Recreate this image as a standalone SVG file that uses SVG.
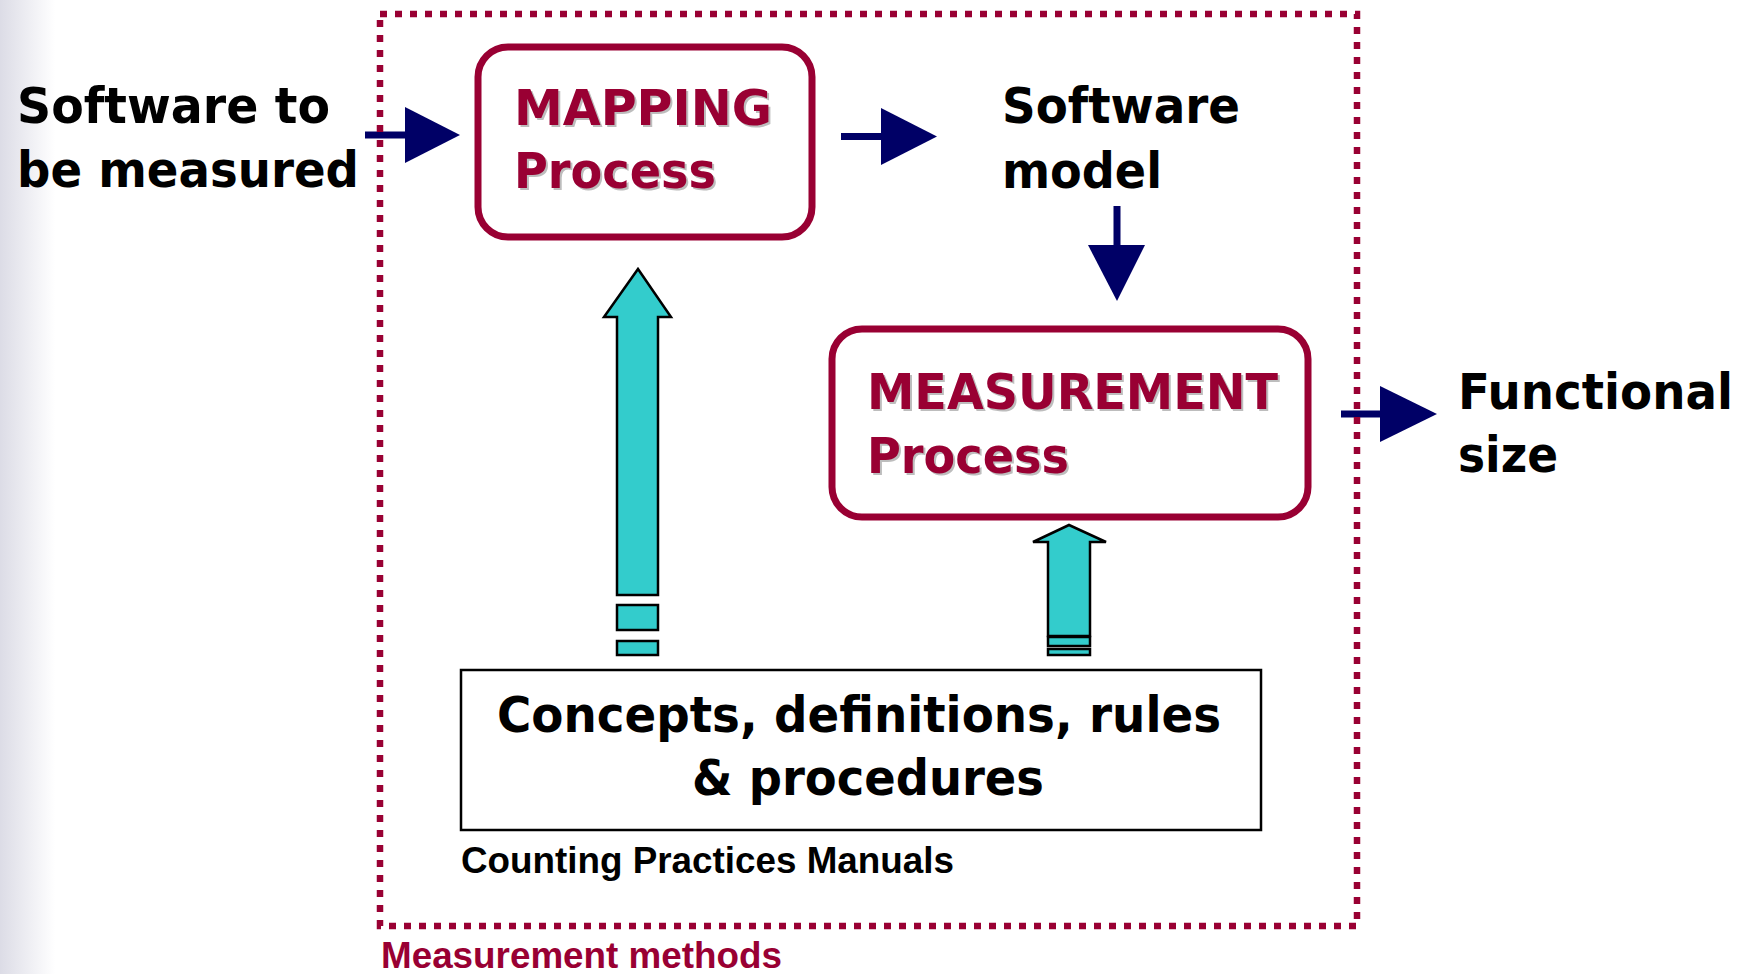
<svg xmlns="http://www.w3.org/2000/svg" width="1754" height="974" viewBox="0 0 1754 974">
  <defs>
    <linearGradient id="edgeFade" x1="0" y1="0" x2="1" y2="0">
      <stop offset="0" stop-color="#dcdce6"/>
      <stop offset="1" stop-color="#ffffff"/>
    </linearGradient>
    <style>
      .big { font-family: "DejaVu Sans", Verdana, sans-serif; font-weight: bold; font-size: 49px; fill: #000000; }
      .proc { font-family: "DejaVu Sans", Verdana, sans-serif; font-weight: bold; font-size: 50px; fill: #990033; }
      .shadow { fill: #bdbdbd; }
      .small { font-family: "Liberation Sans", Arial, sans-serif; font-weight: bold; font-size: 36px; }
      .procbox { fill: #ffffff; stroke: #990033; stroke-width: 7; }
      .flow { fill: #000066; stroke: none; }
      .teal { fill: #33cccc; stroke: #000000; stroke-width: 2.5; stroke-linejoin: miter; }
      .frame { fill: none; stroke: #990033; stroke-width: 6.5; stroke-dasharray: 7 8; }
    </style>
  </defs>

  <rect x="0" y="0" width="1754" height="974" fill="#ffffff"/>
  <rect x="0" y="0" width="55" height="974" fill="url(#edgeFade)"/>

  <!-- flow arrows -->
  <g id="connectors">
    <!-- input to mapping -->
    <rect class="flow" x="365" y="131.5" width="42" height="7"/>
    <polygon class="flow" points="405,107 460,135 405,163"/>
    <!-- mapping to software model -->
    <rect class="flow" x="841" y="133" width="42" height="7"/>
    <polygon class="flow" points="881,108 937,136.5 881,165"/>
    <!-- software model down to measurement -->
    <rect class="flow" x="1113.5" y="206" width="7" height="41"/>
    <polygon class="flow" points="1088,245 1145,245 1117,301"/>
    <!-- measurement to functional size -->
    <rect class="flow" x="1341" y="410.5" width="41" height="7"/>
    <polygon class="flow" points="1380,386 1437,414 1380,442"/>

    <!-- manuals feeding mapping -->
    <polygon class="teal" points="638,269 671,317 658,317 658,595 617,595 617,317 604,317"/>
    <rect class="teal" x="617" y="605" width="41" height="25"/>
    <rect class="teal" x="617" y="641" width="41" height="14"/>

    <!-- manuals feeding measurement -->
    <polygon class="teal" points="1069,525 1106,542 1090,542 1090,636 1048,636 1048,542 1033,542"/>
    <rect class="teal" x="1048" y="637" width="42" height="9" stroke-width="3"/>
    <rect class="teal" x="1048" y="649" width="42" height="6"/>
  </g>

  <!-- dotted method boundary -->
  <g id="methods-frame">
    <rect class="frame" x="380" y="14" width="977" height="912"/>
    <text class="small" x="381" y="968" fill="#990033" font-size="33" textLength="401" lengthAdjust="spacingAndGlyphs">Measurement methods</text>
  </g>

  <g id="software-input">
    <text class="big" x="17" y="123" textLength="313" lengthAdjust="spacingAndGlyphs">Software to</text>
    <text class="big" x="17" y="187" textLength="342" lengthAdjust="spacingAndGlyphs">be measured</text>
  </g>

  <g id="mapping-process">
    <rect class="procbox" x="478" y="47" width="334" height="190" rx="30" ry="30"/>
    <text class="proc shadow" x="516" y="127" textLength="258" lengthAdjust="spacingAndGlyphs">MAPPING</text>
    <text class="proc" x="514" y="125" textLength="258" lengthAdjust="spacingAndGlyphs">MAPPING</text>
    <text class="proc shadow" x="516" y="190" textLength="202" lengthAdjust="spacingAndGlyphs">Process</text>
    <text class="proc" x="514" y="188" textLength="202" lengthAdjust="spacingAndGlyphs">Process</text>
  </g>

  <g id="software-model">
    <text class="big" x="1002" y="123" textLength="238" lengthAdjust="spacingAndGlyphs">Software</text>
    <text class="big" x="1002" y="188" textLength="160" lengthAdjust="spacingAndGlyphs">model</text>
  </g>

  <g id="measurement-process">
    <rect class="procbox" x="832" y="329" width="476" height="188" rx="30" ry="30"/>
    <text class="proc shadow" x="869" y="411" textLength="411" lengthAdjust="spacingAndGlyphs">MEASUREMENT</text>
    <text class="proc" x="867" y="409" textLength="411" lengthAdjust="spacingAndGlyphs">MEASUREMENT</text>
    <text class="proc shadow" x="869" y="475" textLength="202" lengthAdjust="spacingAndGlyphs">Process</text>
    <text class="proc" x="867" y="473" textLength="202" lengthAdjust="spacingAndGlyphs">Process</text>
  </g>

  <g id="functional-size">
    <text class="big" x="1458" y="409" textLength="275" lengthAdjust="spacingAndGlyphs">Functional</text>
    <text class="big" x="1458" y="472" textLength="100" lengthAdjust="spacingAndGlyphs">size</text>
  </g>

  <g id="concepts">
    <rect x="461" y="670" width="800" height="160" fill="#ffffff" stroke="#000000" stroke-width="2.5"/>
    <text class="big" x="859" y="732" text-anchor="middle" textLength="724" lengthAdjust="spacingAndGlyphs">Concepts, definitions, rules</text>
    <text class="big" x="868" y="795" text-anchor="middle" textLength="352" lengthAdjust="spacingAndGlyphs">&amp; procedures</text>
    <text class="small" x="461" y="873" fill="#000000" textLength="493" lengthAdjust="spacingAndGlyphs">Counting Practices Manuals</text>
  </g>
</svg>
